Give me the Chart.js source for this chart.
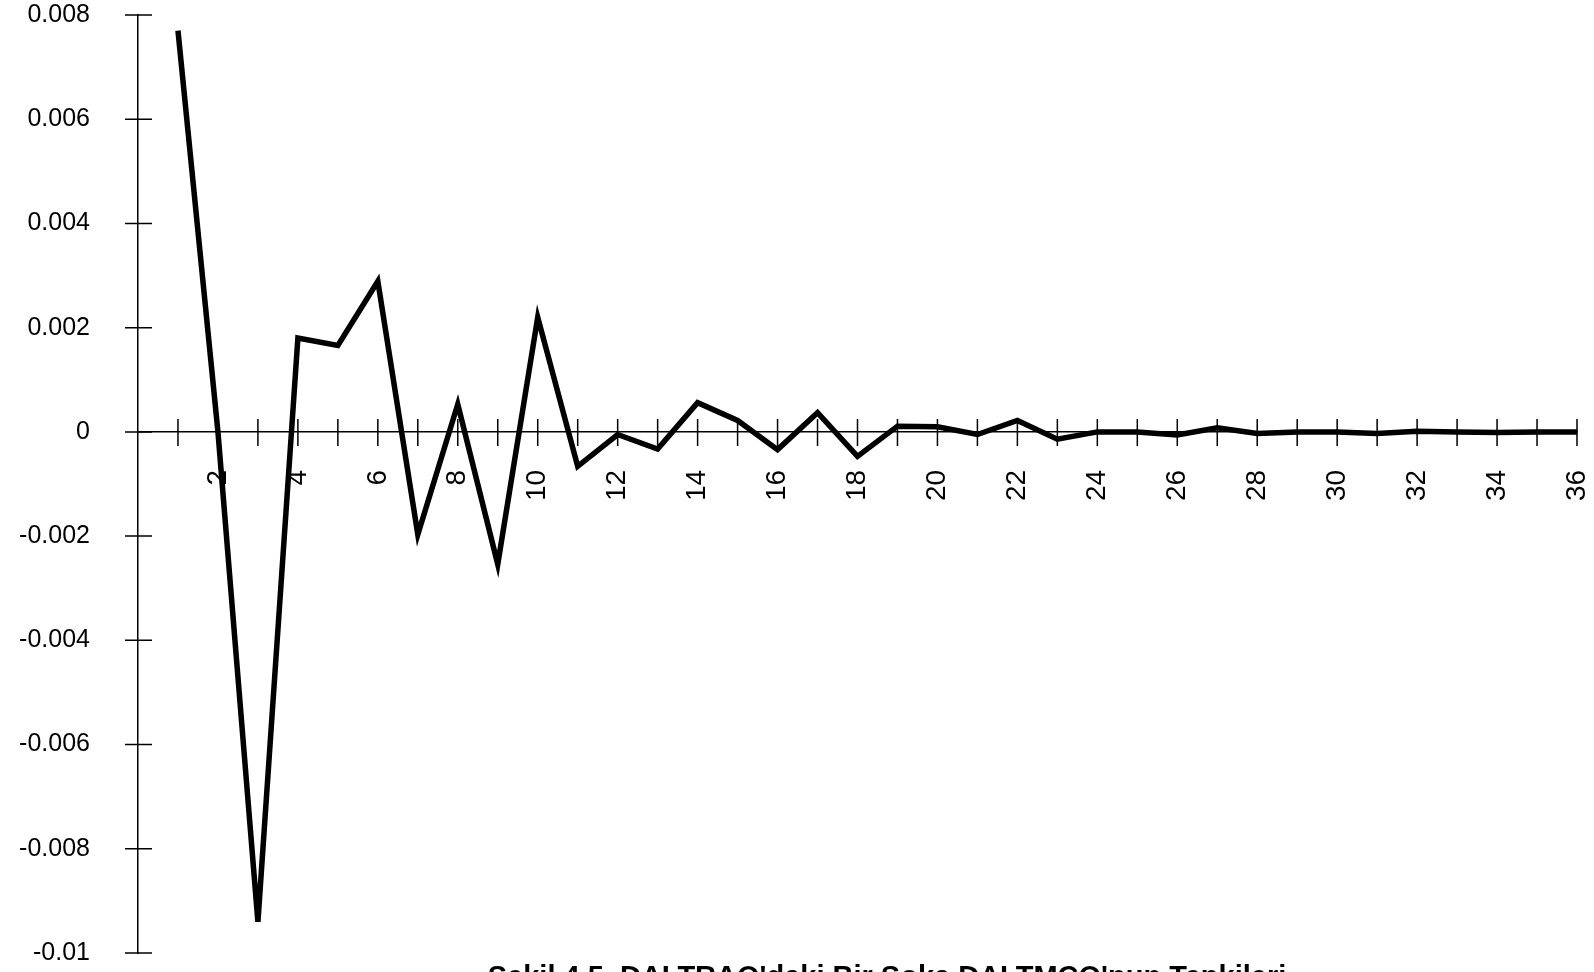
<!DOCTYPE html>
<html>
<head>
<meta charset="utf-8">
<script src="https://cdn.jsdelivr.net/npm/chart.js@4/dist/chart.umd.min.js"></script>
<style>
  html, body { margin: 0; padding: 0; background: #fff; }
  canvas { display: block; }
</style>
</head>
<body>
<canvas id="chart" width="1594" height="972"></canvas>
<script>
// Response periods (horizontal axis) and the response values
const periods = [1, 2, 3, 4, 5, 6, 7, 8, 9, 10, 11, 12, 13, 14, 15, 16, 17, 18,
                 19, 20, 21, 22, 23, 24, 25, 26, 27, 28, 29, 30, 31, 32, 33, 34, 35, 36];
const responses = [0.0077, 0.0000, -0.0094, 0.0018, 0.00166, 0.00289, -0.00197, 0.00053,
                   -0.00254, 0.0022, -0.00066, -0.00005, -0.00033, 0.00056, 0.00022, -0.00034,
                   0.00037, -0.00047, 0.00011, 0.0001, -0.00005, 0.00022, -0.00014, 0,
                   0, -0.00006, 0.00008, -0.00003, 0, 0, -0.00003, 0.00001,
                   0, -0.00001, 0, 0];
// Axis tick labels
const xTickLabels = ['2', '4', '6', '8', '10', '12', '14', '16', '18', '20', '22', '24',
                     '26', '28', '30', '32', '34', '36'];
const yTickLabels = ['-0.01', '-0.008', '-0.006', '-0.004', '-0.002', '0',
                     '0.002', '0.004', '0.006', '0.008'];
const chartTitle = "Şekil 4.5. DALTRAO'daki Bir Şoka DALTMCO'nun Tepkileri";

const Y_MIN = -0.01, Y_MAX = 0.008, Y_STEP = 0.002;

// Tick marks that straddle both axes
const crossTicks = {
  id: 'crossTicks',
  beforeDatasetsDraw(chart) {
    const {ctx, scales: {x, y}} = chart;
    const y0 = y.getPixelForValue(0);
    ctx.save();
    ctx.strokeStyle = '#000';
    ctx.lineWidth = 1.5;
    ctx.beginPath();
    x.ticks.forEach(t => {
      if (t.value <= 0) return;
      const px = x.getPixelForValue(t.value);
      ctx.moveTo(px, y0 - 13);
      ctx.lineTo(px, y0 + 14);
    });
    const left = chart.chartArea.left;
    y.ticks.forEach(t => {
      const py = y.getPixelForValue(t.value);
      ctx.moveTo(left - 13, py);
      ctx.lineTo(left + 14, py);
    });
    ctx.stroke();
    ctx.restore();
  }
};

// Caption under the plot
const captionPlugin = {
  id: 'caption',
  afterDraw(chart) {
    const {ctx, chartArea} = chart;
    ctx.save();
    ctx.fillStyle = '#000';
    ctx.font = "bold 29px 'Liberation Sans', Arial, sans-serif";
    ctx.textAlign = 'center';
    ctx.textBaseline = 'alphabetic';
    ctx.fillText(chartTitle, chartArea.left + 749, chartArea.bottom + 33);
    ctx.restore();
  }
};

new Chart(document.getElementById('chart'), {
  type: 'line',
  data: {
    datasets: [{
      data: periods.map((p, i) => ({x: p, y: responses[i]})),
      borderColor: '#000',
      borderWidth: 5.5,
      pointRadius: 0,
      tension: 0,
      borderJoinStyle: 'miter',
      fill: false
    }]
  },
  options: {
    responsive: false,
    animation: false,
    layout: { padding: { top: 15, right: 17, bottom: 19, left: 0 } },
    plugins: { legend: { display: false }, tooltip: { enabled: false }, title: { display: false } },
    scales: {
      x: {
        type: 'linear',
        position: { y: 0 },
        min: 0,
        max: 36,
        afterFit: (scale) => {
          scale.height = 0;
          scale.paddingLeft = 0;
          scale.paddingRight = 0;
          scale.paddingTop = 0;
          scale.paddingBottom = 0;
        },
        grid: { drawOnChartArea: false, drawTicks: false },
        border: { display: true, color: '#000', width: 1.5 },
        ticks: {
          stepSize: 1,
          autoSkip: false,
          minRotation: 90,
          maxRotation: 90,
          padding: 38,
          color: '#000',
          font: { family: "'Liberation Sans Narrow', 'Arial Narrow', 'Liberation Sans', sans-serif", size: 28 },
          callback: (v) => xTickLabels.includes(String(v)) ? String(v) : ''
        }
      },
      y: {
        type: 'linear',
        position: 'left',
        min: Y_MIN,
        max: Y_MAX,
        afterFit: (scale) => {
          scale.width = 138;
          scale.paddingTop = 0;
          scale.paddingBottom = 0;
        },
        grid: { drawOnChartArea: false, drawTicks: false },
        border: { display: true, color: '#000', width: 1.5 },
        ticks: {
          stepSize: Y_STEP,
          padding: 48,
          color: '#000',
          font: { family: "'Liberation Sans', Arial, sans-serif", size: 25 },
          callback: (v) => {
            const idx = Math.round((v - Y_MIN) / Y_STEP);
            return yTickLabels[idx];
          }
        }
      }
    }
  },
  plugins: [crossTicks, captionPlugin]
});
</script>
</body>
</html>
